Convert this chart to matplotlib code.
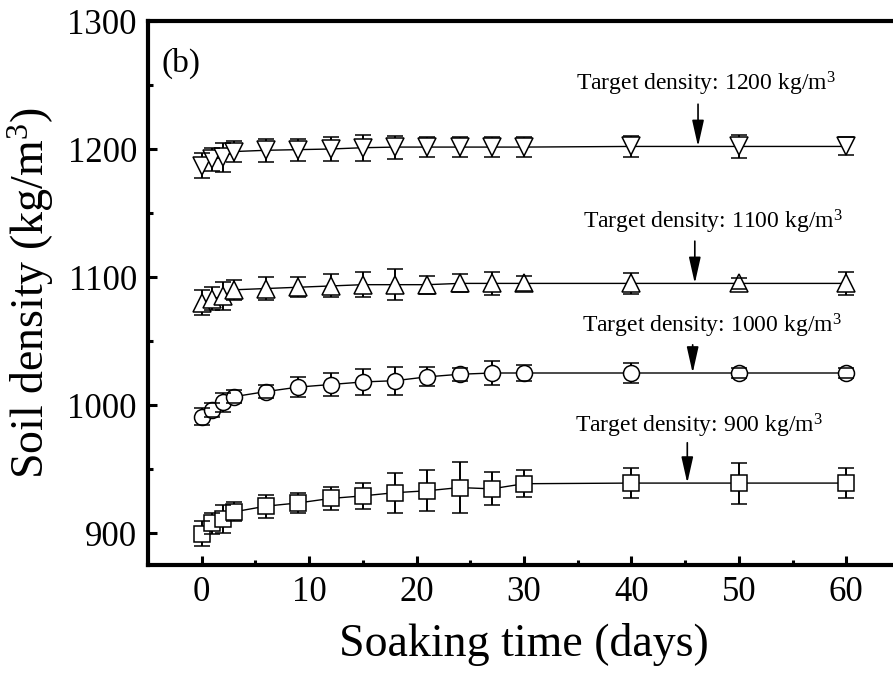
import matplotlib
matplotlib.use('Agg')
import matplotlib.pyplot as plt
from matplotlib.ticker import MultipleLocator

plt.rcParams['font.family'] = 'Liberation Serif'
plt.rcParams['mathtext.fontset'] = 'custom'
plt.rcParams['mathtext.rm'] = 'Liberation Serif'
plt.rcParams['mathtext.it'] = 'Liberation Serif:italic'

# datos
days = [0, 1, 2, 3, 6, 9, 12, 15, 18, 21, 24, 27, 30, 40, 50, 60]

d1200 = [1187, 1192, 1193.5, 1198, 1199, 1199.5, 1200, 1201, 1201.5, 1201.5, 1201.5, 1201.5, 1201.5, 1202, 1202, 1202]
e1200 = [10, 9, 11.5, 8, 9, 8.5, 9, 10, 9, 8, 8, 7.5, 7.5, 8, 9, 7]

d1100 = [1080, 1083, 1085, 1090, 1091, 1092, 1093, 1094, 1094, 1094, 1095, 1095, 1095, 1095, 1095, 1095]
e1100 = [10, 9, 11, 8, 9, 8, 9, 10, 12, 7, 7, 9, 6, 8, 4, 9]

d1000 = [991, 996, 1002, 1006.5, 1010.5, 1014, 1016, 1018, 1019, 1022, 1024, 1025, 1025, 1025, 1025, 1025]
e1000 = [7, 5.5, 7.5, 5, 5, 8, 9, 10, 11, 7.5, 5, 9, 6, 8, 4, 4]

d900 = [899.5, 907.5, 911, 916.5, 921, 923.5, 927, 929, 931.5, 933, 935.5, 934.5, 938.5, 939, 939, 939]
e900 = [10, 8.5, 11, 7.5, 9, 8, 9, 10, 15.5, 16, 20, 13, 10.5, 12, 16, 12]

targets = ['1200', '1100', '1000', '900']
label_x = [46.9, 47.6, 47.5, 46.3]
label_y = [1251, 1143, 1061.5, 983.5]
arrow_x = [46.2, 45.9, 45.7, 45.2]
arrow_tail = [1235, 1128, 1047, 970.5]
arrow_head = [1202, 1095, 1025, 939]

series = [(d1200, e1200, 'v', 13), (d1100, e1100, '^', 13),
          (d1000, e1000, 'o', 11.5), (d900, e900, 's', 11)]

fig = plt.figure(figsize=(8.93, 6.73), dpi=100)
ax = fig.add_axes([148 / 893, 1 - 565 / 673, (900 - 148) / 893, (565 - 21) / 673])

for vals, errs, mk, ms in series:
    line, caps, bars = ax.errorbar(days, vals, yerr=errs, fmt='-', marker=mk, ms=ms,
                                   mfc='white', mec='black', mew=1.1, color='black',
                                   lw=1.0, ecolor='black', elinewidth=1.4,
                                   capsize=5.8, capthick=1.5)
    for c in caps:
        c.set_zorder(5)

for i in range(4):
    ax.text(label_x[i], label_y[i], 'Target density: ' + targets[i] + r' kg/m$^3$',
            ha='center', va='center', fontsize=17)
    ax.annotate('', xy=(arrow_x[i], arrow_head[i]), xytext=(arrow_x[i], arrow_tail[i]),
                arrowprops=dict(arrowstyle='-|>,head_length=0.8,head_width=0.18',
                                lw=1.2, color='black', shrinkA=0, shrinkB=0,
                                mutation_scale=20))

ax.text(0.018, 0.95, '(b)', transform=ax.transAxes, fontsize=24, va='top', ha='left')

ax.set_xlim(-5, 65)
ax.set_ylim(875, 1300)
ax.xaxis.set_major_locator(MultipleLocator(10))
ax.xaxis.set_minor_locator(MultipleLocator(5))
ax.yaxis.set_major_locator(MultipleLocator(100))
ax.yaxis.set_minor_locator(MultipleLocator(50))
ax.tick_params(which='both', direction='in', top=False, right=False, labelsize=25, width=2.2)
ax.tick_params(which='major', length=6.5, pad=8)
ax.tick_params(which='minor', length=3.5)
for s in ax.spines.values():
    s.set_linewidth(3)
ax.spines['right'].set_visible(False)

ax.set_xlabel('Soaking time (days)', fontsize=33, labelpad=10)
ax.set_ylabel(r'Soil density (kg/m$^3$)', fontsize=33, labelpad=8)

plt.savefig('out.png', dpi=100)
plt.close()
